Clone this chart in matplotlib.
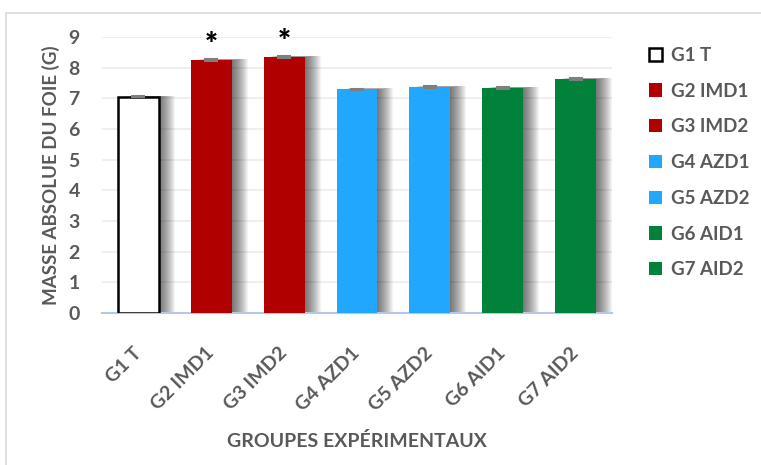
import matplotlib.pyplot as plt
from matplotlib.patches import Rectangle, Patch

# data
groups = ['G1 T', 'G2 IMD1', 'G3 IMD2', 'G4 AZD1', 'G5 AZD2', 'G6 AID1', 'G7 AID2']
values = [7.05, 8.25, 8.35, 7.30, 7.37, 7.34, 7.63]
errors = [0.02, 0.02, 0.02, 0.02, 0.02, 0.02, 0.02]
signif = ['', '*', '*', '', '', '', '']
colors = ['white', '#B00000', '#B00000', '#22A7FF', '#22A7FF', '#00823B', '#00823B']
edges = ['black', '#B00000', '#B00000', '#22A7FF', '#22A7FF', '#00823B', '#00823B']

txt = '#595959'
plt.rcParams['font.family'] = ['Lato', 'DejaVu Sans']
plt.rcParams['font.weight'] = 'bold'

fig = plt.figure(figsize=(7.61, 4.65), dpi=100)
fig.patches.append(Rectangle((6 / 761, -0.1), 1.2, 1 - 13 / 465 + 0.1,
                             transform=fig.transFigure, fill=False,
                             edgecolor='#d9d9d9', lw=1.2))
ax = fig.add_axes([102 / 761, 1 - 313 / 465, 510 / 761, 276 / 465])

x = list(range(len(groups)))
width = 0.56
px = 1 / 72.9  # one pixel in data units along x

# soft shadow to the right of each bar
for k in range(1, 17):
    ax.bar([i + k * px for i in x], [v + 0.04 * k / 16 for v in values], width,
           color='black', alpha=0.045, lw=0, zorder=1)

ax.bar(x, values, width, color=colors, edgecolor=edges,
       linewidth=[1.8, 0, 0, 0, 0, 0, 0], zorder=3)
ax.errorbar(x, values, yerr=errors, fmt='none', ecolor='#7f7f7f',
            elinewidth=1, capsize=5, capthick=1.5, zorder=4)

for i, s in enumerate(signif):
    if s:
        ax.text(x[i], values[i] + 0.02, s, ha='center', va='bottom',
                fontsize=22, color='black', fontweight='heavy')

ax.set_xlim(-0.5, len(groups) - 0.5)
ax.set_ylim(0, 9)
ax.set_yticks(range(10))
ax.yaxis.grid(True, color='#ececec', lw=1.2, zorder=0)
ax.set_axisbelow(True)
for side in ['top', 'right', 'left']:
    ax.spines[side].set_visible(False)
ax.spines['bottom'].set_color('#b4c7e7')
ax.spines['bottom'].set_linewidth(1.5)
ax.tick_params(length=0, labelcolor=txt, labelsize=14)
ax.tick_params(axis='y', pad=16)
ax.set_xticks(x)
ax.set_xticklabels(groups, rotation=45, ha='right', va='center',
                   rotation_mode='anchor', fontsize=14, fontweight='bold')
ax.tick_params(axis='x', pad=27)
ax.set_ylabel('MASSE ABSOLUE DU FOIE (G)', fontsize=13.5, color=txt,
              fontweight='bold', labelpad=6)
ax.set_xlabel('GROUPES EXPÉRIMENTAUX', fontsize=14, color=txt,
              fontweight='bold', labelpad=13)

handles = [Patch(facecolor=c, edgecolor=e, linewidth=1.8 if e == 'black' else 0)
           for c, e in zip(colors, edges)]
fig.legend(handles, groups, loc='upper left', bbox_to_anchor=(632 / 761, 1 - 30 / 465),
           frameon=False, fontsize=13.5, labelcolor=txt, handlelength=0.7,
           handleheight=0.7, handletextpad=0.5, labelspacing=1.0)

fig.savefig('out.png', dpi=100)
